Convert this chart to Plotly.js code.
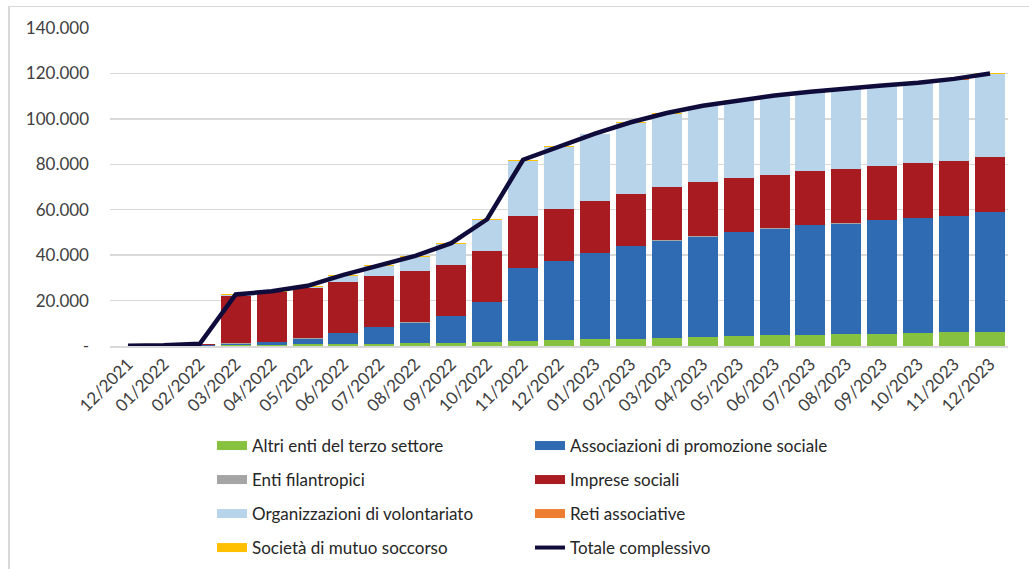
<!DOCTYPE html>
<html>
<head>
<meta charset="utf-8">
<script src="https://cdn.plot.ly/plotly-3.0.1.min.js"></script>
<style>
  html, body { margin: 0; padding: 0; background: #fff; }
  #wrap { position: relative; width: 1029px; height: 569px; overflow: hidden; }
  #chart { position: absolute; left: 0; top: 0; width: 1029px; height: 569px; }
  #frame { position: absolute; left: 8px; top: 6px; width: 1040px; height: 600px;
           border-top: 1px solid #d9d9d9; border-left: 2px solid #d9d9d9; pointer-events: none; }
</style>
</head>
<body>
<div id="wrap">
  <div id="chart"></div>
  <div id="frame"></div>
</div>
<script>
const categories = ['12/2021','01/2022','02/2022','03/2022','04/2022','05/2022','06/2022','07/2022','08/2022','09/2022','10/2022','11/2022','12/2022','01/2023','02/2023','03/2023','04/2023','05/2023','06/2023','07/2023','08/2023','09/2023','10/2023','11/2023','12/2023'];

const altriEnti       = [0, 0, 100, 300, 400, 700, 800, 1000, 1200, 1500, 1600, 2400, 2800, 2900, 3200, 3700, 4000, 4400, 4700, 4800, 5200, 5300, 5600, 6000, 6200];
const associazioniAPS = [0, 100, 400, 800, 1500, 2600, 4900, 7400, 9100, 11500, 17700, 31900, 34600, 37900, 40700, 42700, 44100, 45700, 46900, 48300, 48700, 50000, 50700, 51200, 52600];
const entiFilantropici= [0, 0, 0, 20, 30, 40, 50, 60, 70, 80, 90, 100, 110, 120, 130, 140, 150, 160, 170, 180, 190, 200, 210, 220, 230];
const impreseSociali  = [100, 200, 200, 21000, 21800, 22000, 22600, 22400, 22700, 22800, 22500, 22700, 23000, 23000, 22900, 23500, 23800, 23500, 23600, 23800, 23900, 23700, 24000, 24000, 24000];
const organizzazioniODV = [0, 0, 100, 200, 200, 800, 2500, 4300, 6200, 9000, 13500, 24500, 27000, 29200, 31200, 32200, 33400, 34100, 34600, 34500, 35100, 35200, 35100, 35900, 36700];
const retiAssociative = [0, 0, 0, 10, 10, 10, 20, 20, 20, 20, 20, 30, 30, 30, 30, 30, 30, 30, 40, 40, 40, 40, 40, 40, 40];
const societaMutuo    = [0, 0, 100, 400, 400, 400, 400, 400, 400, 400, 400, 400, 400, 400, 400, 400, 400, 400, 400, 400, 400, 400, 400, 400, 400];
const totaleComplessivo = [100, 300, 1000, 22700, 24100, 26500, 31300, 35600, 39700, 45300, 55800, 82000, 87900, 93500, 98500, 102600, 105800, 108200, 110300, 111900, 113400, 114700, 115900, 117600, 120000];

const yTickVals = [0, 20000, 40000, 60000, 80000, 100000, 120000, 140000];
const yTickText = ['-', '20.000', '40.000', '60.000', '80.000', '100.000', '120.000', '140.000'];

const seriesNames = ['Altri enti del terzo settore', 'Associazioni di promozione sociale', 'Enti filantropici', 'Imprese sociali', 'Organizzazioni di volontariato', 'Reti associative', 'Società di mutuo soccorso'];
const seriesData = [altriEnti, associazioniAPS, entiFilantropici, impreseSociali, organizzazioniODV, retiAssociative, societaMutuo];
const seriesColors = ['#86c240', '#2e6bb3', '#a5a5a5', '#a81c21', '#b8d4ea', '#ed7d31', '#ffc000'];
const lineColor = '#0f0c3c';
const legendOf = ['legend', 'legend', 'legend2', 'legend2', 'legend3', 'legend3', 'legend4'];

const traces = [];
seriesNames.forEach((n, i) => {
  traces.push({
    type: 'bar', name: n, x: categories, y: seriesData[i],
    marker: { color: seriesColors[i], line: { width: 0 } },
    showlegend: false, hoverinfo: 'x+y+name'
  });
});
traces.push({
  type: 'scatter', mode: 'lines', name: 'Totale complessivo',
  x: categories, y: totaleComplessivo,
  line: { color: lineColor, width: 4.5 }, showlegend: false
});
// legend entries (rectangular swatches like the original)
seriesNames.forEach((n, i) => {
  traces.push({
    type: 'scatter', mode: 'lines', name: n, x: [null], y: [null],
    line: { color: seriesColors[i], width: 9 }, legend: legendOf[i], hoverinfo: 'skip'
  });
});
traces.push({
  type: 'scatter', mode: 'lines', name: 'Totale complessivo', x: [null], y: [null],
  line: { color: lineColor, width: 4 }, legend: 'legend4', hoverinfo: 'skip'
});

const font = { family: 'Lato, "Open Sans", sans-serif', size: 17, color: '#404040' };
const legendBase = {
  orientation: 'h', x: 0.1136, xanchor: 'left', yanchor: 'middle', yref: 'container',
  entrywidth: 273, entrywidthmode: 'pixels', itemwidth: 30,
  font: { family: font.family, size: 17, color: '#262626' },
  bgcolor: 'rgba(0,0,0,0)', borderwidth: 0, traceorder: 'normal'
};
const rowY = [446, 480, 514, 548];
const toContainerY = py => 1 - py / 569;

const layout = {
  width: 1029, height: 569,
  margin: { l: 110, r: 21, t: 28, b: 223 },
  paper_bgcolor: '#ffffff', plot_bgcolor: '#ffffff',
  barmode: 'stack', bargap: 0.165,
  font: font,
  xaxis: {
    type: 'category', tickangle: -45, showgrid: false,
    showline: true, linecolor: '#d9d9d9', linewidth: 1.5,
    ticks: '', tickfont: { family: font.family, size: 17, color: '#404040' },
    automargin: false
  },
  yaxis: {
    range: [0, 140000], tickvals: yTickVals, ticktext: yTickText,
    showgrid: true, gridcolor: '#d9d9d9', gridwidth: 1.5,
    zeroline: false, showline: false, ticks: '', ticklabelstandoff: 20,
    tickfont: { family: font.family, size: 17, color: '#404040' },
    automargin: false
  },
  legend:  Object.assign({}, legendBase, { y: toContainerY(rowY[0]) }),
  legend2: Object.assign({}, legendBase, { y: toContainerY(rowY[1]) }),
  legend3: Object.assign({}, legendBase, { y: toContainerY(rowY[2]) }),
  legend4: Object.assign({}, legendBase, { y: toContainerY(rowY[3]) }),
  showlegend: true
};

Plotly.newPlot('chart', traces, layout, { displayModeBar: false, staticPlot: true });
</script>
</body>
</html>
